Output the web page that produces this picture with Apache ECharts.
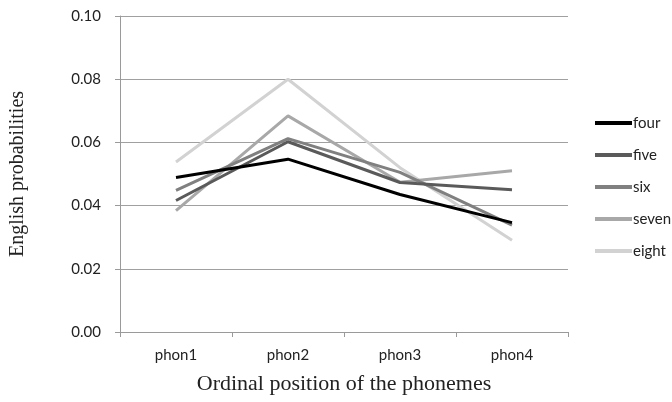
<!DOCTYPE html>
<html>
<head>
<meta charset="utf-8">
<script src="https://cdn.jsdelivr.net/npm/echarts@6/dist/echarts.min.js"></script>
<style>
html,body{margin:0;padding:0;background:#fff;}
#main{width:672px;height:402px;}
</style>
</head>
<body>
<div id="main"></div>
<script>
var categories = ['phon1', 'phon2', 'phon3', 'phon4'];
var seriesNames = ['four', 'five', 'six', 'seven', 'eight'];
var four  = [0.0489, 0.0547, 0.0435, 0.0346];
var five  = [0.0416, 0.0602, 0.0473, 0.0450];
var six   = [0.0448, 0.0612, 0.0505, 0.0338];
var seven = [0.0384, 0.0684, 0.0474, 0.0510];
var eight = [0.0538, 0.0800, 0.0520, 0.0290];
var yTicks = { min: 0, max: 0.1, interval: 0.02 };

var values = [four, five, six, seven, eight];
var colors = ['#000000', '#5a5a5a', '#808080', '#a8a8a8', '#d2d2d2'];

var chart = echarts.init(document.getElementById('main'), null, {renderer: 'canvas'});
var labelFont = 'Lato, "Open Sans", "Liberation Sans", sans-serif';
var serifFont = '"Liberation Serif", "DejaVu Serif", serif';
chart.setOption({
  animation: false,
  backgroundColor: '#ffffff',
  grid: { left: 120, right: 104, top: 16, bottom: 70 },
  legend: {
    orient: 'vertical',
    left: 590,
    top: 110,
    itemWidth: 37,
    itemHeight: 4,
    itemGap: 16,
    icon: 'rect',
    textStyle: { fontFamily: labelFont, fontSize: 15, color: '#222', lineHeight: 16, padding: [0,0,0,-4] },
    data: seriesNames
  },
  xAxis: {
    type: 'category',
    data: categories,
    boundaryGap: true,
    name: 'Ordinal position of the phonemes',
    nameLocation: 'middle',
    nameGap: 41,
    nameTextStyle: { fontFamily: serifFont, fontSize: 22, color: '#222' },
    axisLine: { lineStyle: { color: '#9a9a9a', width: 1 } },
    axisTick: { show: true, length: 5, lineStyle: { color: '#9a9a9a' } },
    axisLabel: { fontFamily: labelFont, fontSize: 15, color: '#222', margin: 16 },
    splitLine: { show: false }
  },
  yAxis: {
    type: 'value',
    min: yTicks.min,
    max: yTicks.max,
    interval: yTicks.interval,
    name: 'English probabilities',
    nameLocation: 'middle',
    nameGap: 92,
    nameRotate: 90,
    nameTextStyle: { fontFamily: serifFont, fontSize: 20, color: '#222' },
    axisLine: { show: true, lineStyle: { color: '#9a9a9a', width: 1 } },
    axisTick: { show: true, length: 5, lineStyle: { color: '#9a9a9a' } },
    axisLabel: { fontFamily: labelFont, fontSize: 15, color: '#222', margin: 19,
      formatter: function (v) { return v.toFixed(2); } },
    splitLine: { show: true, lineStyle: { color: '#a0a0a0', width: 1 } }
  },
  series: seriesNames.map(function (n, i) {
    return {
      name: n,
      type: 'line',
      data: values[i],
      symbol: 'none',
      smooth: false,
      z: 10 - i,
      lineStyle: { color: colors[i], width: 3 },
      itemStyle: { color: colors[i] }
    };
  })
});
</script>
</body>
</html>
